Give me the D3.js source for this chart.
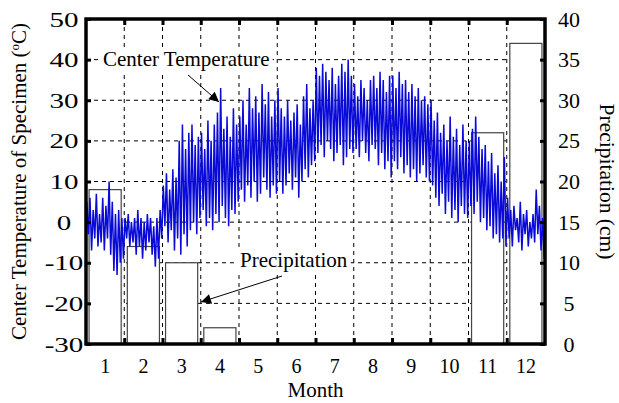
<!DOCTYPE html>
<html>
<head>
<meta charset="utf-8">
<script src="https://cdn.jsdelivr.net/npm/d3@7"></script>
<style>
  body { margin: 0; background: #fff; }
  text { font-family: "Liberation Serif", "Times New Roman", serif; fill: #000; }
</style>
</head>
<body>
<div id="chart"></div>
<script>
// Month labels and monthly precipitation (cm)
const months = ["1", "2", "3", "4", "5", "6", "7", "8", "9", "10", "11", "12"];
const precipitation = [19, 12, 10, 2, 0, 0, 0, 0, 0, 0, 26, 37];

const tempTicks = [-30, -20, -10, 0, 10, 20, 30, 40, 50];
const precipTicks = [0, 5, 10, 15, 20, 25, 30, 35, 40];

// Center temperature of specimen, read as highs/lows, 12 readings per month
const tempHigh = [
  5, 6, 3, 7, 2, 6, 4, 10, 5, 2, 3, 1,          // Jan
  1, 2, 0, 1, 3, 1, 0, 2, 1, -1, 1, 3,          // Feb
  9, 12, 8, 13, 11, 20, 24, 18, 22, 24, 19, 21, // Mar
  22, 18, 25, 20, 24, 27, 33, 23, 26, 21, 28, 24, // Apr
  26, 30, 24, 33, 28, 31, 27, 34, 29, 32, 26, 30, // May
  33, 28, 26, 30, 25, 27, 29, 24, 31, 34, 28, 30, // Jun
  38, 36, 39, 37, 35, 38, 34, 36, 39, 37, 40, 36, // Jul
  34, 31, 35, 33, 30, 35, 36, 33, 37, 35, 32, 36, // Aug
  36, 33, 37, 34, 35, 32, 34, 31, 33, 30, 31, 29, // Sep
  30, 25, 27, 22, 24, 20, 26, 21, 23, 19, 24, 20, // Oct
  20, 23, 26, 21, 18, 19, 15, 17, 12, 14, 10, 16, // Nov
  6, 3, 4, 1, 5, 2, 3, 0, 2, 8, 4, 1            // Dec
];
const tempLow = [
  -3, -7, -4, -6, -5, -7, -4, -8, -12, -13, -10, -9, // Jan
  -4, -6, -5, -8, -6, -9, -7, -5, -8, -11, -9, -4,   // Feb
  -1, -5, -2, -7, -4, -8, -3, -6, -2, 0, -3, 1,      // Mar
  3, -1, 1, -2, 2, 0, 4, 1, -1, 3, 2, 5,             // Apr
  8, 5, 9, 6, 10, 5, 7, 11, 8, 6, 9, 7,              // May
  10, 7, 9, 12, 8, 11, 6, 10, 13, 11, 14, 15,        // Jun
  17, 19, 16, 20, 18, 15, 17, 19, 14, 16, 18, 17,    // Jul
  18, 16, 20, 17, 15, 19, 18, 14, 17, 13, 15, 11,    // Aug
  15, 13, 16, 12, 14, 11, 13, 10, 12, 14, 11, 10,    // Sep
  9, 6, 4, 7, 2, 5, 1, 3, 0, 4, 2, 1,                // Oct
  4, 2, 5, 0, 1, -2, -1, -4, -3, -5, -4, -6,         // Nov
  -4, -6, -2, -5, -7, -3, -6, -4, -5, -3, -7, -9     // Dec
];

const width = 619, height = 403;
const margin = { top: 19, right: 74, bottom: 59, left: 86 };
const innerW = width - margin.left - margin.right;
const innerH = height - margin.top - margin.bottom;

const svg = d3.select("#chart").append("svg")
  .attr("width", width)
  .attr("height", height);

const g = svg.append("g")
  .attr("transform", `translate(${margin.left},${margin.top})`);

// Scales
const x = d3.scaleLinear().domain([0, 12]).range([0, innerW]);
const xBand = d3.scaleBand().domain(months).range([0, innerW])
  .paddingInner(0.16).paddingOuter(0.08);
const yT = d3.scaleLinear().domain([-30, 50]).range([innerH, 0]);
const yP = d3.scaleLinear().domain([0, 40]).range([innerH, 0]);

// Grid lines
const grid = g.append("g").attr("class", "grid")
  .attr("stroke", "#000")
  .attr("stroke-width", 1)
  .attr("stroke-dasharray", "4,4");

grid.selectAll("line.h")
  .data(tempTicks.filter(d => d > -30 && d < 50))
  .enter().append("line")
  .attr("class", "h")
  .attr("x1", 0).attr("x2", innerW)
  .attr("y1", d => yT(d)).attr("y2", d => yT(d));

grid.selectAll("line.v")
  .data(d3.range(1, 12))
  .enter().append("line")
  .attr("class", "v")
  .attr("x1", d => x(d)).attr("x2", d => x(d))
  .attr("y1", 0).attr("y2", innerH);

// Precipitation bars
g.append("g").selectAll("rect")
  .data(months.map((m, i) => ({ m, v: precipitation[i] })).filter(d => d.v > 0))
  .enter().append("rect")
  .attr("x", d => xBand(d.m))
  .attr("y", d => yP(d.v))
  .attr("width", xBand.bandwidth())
  .attr("height", d => innerH - yP(d.v))
  .attr("fill", "#fff")
  .attr("stroke", "#444")
  .attr("stroke-width", 1.2);

// Temperature trace: alternate between highs and lows (12 readings per month)
const step = 1 / 12;
const pts = [];
tempHigh.forEach((hi, i) => {
  const t = (i + 0.5) * step;
  pts.push([t - step / 4, hi]);
  pts.push([t + step / 4, tempLow[i]]);
});
const line = d3.line()
  .x(d => x(d[0]))
  .y(d => yT(d[1]));

g.append("path")
  .datum(pts)
  .attr("fill", "none")
  .attr("stroke", "#0a0ad8")
  .attr("stroke-width", 1.5)
  .attr("stroke-linejoin", "miter")
  .attr("d", line);

// Annotations
svg.append("defs").append("marker")
  .attr("id", "arrow")
  .attr("viewBox", "0 0 10 10")
  .attr("refX", 10).attr("refY", 5)
  .attr("markerWidth", 14).attr("markerHeight", 10)
  .attr("markerUnits", "userSpaceOnUse")
  .attr("orient", "auto")
  .append("path")
  .attr("d", "M0,0 L10,5 L0,10 Z")
  .attr("fill", "#000");

function annotate(label, tx, ty, from, to) {
  const t = svg.append("text")
    .attr("x", tx).attr("y", ty)
    .style("font-size", "21px")
    .text(label);
  const b = t.node().getBBox();
  svg.insert("rect", () => t.node())
    .attr("x", b.x - 3).attr("y", b.y)
    .attr("width", b.width + 6).attr("height", b.height)
    .attr("fill", "#fff");
  svg.append("line")
    .attr("x1", from[0]).attr("y1", from[1])
    .attr("x2", to[0]).attr("y2", to[1])
    .attr("stroke", "#000")
    .attr("stroke-width", 1)
    .attr("marker-end", "url(#arrow)");
}
annotate("Center Temperature", 103, 66, [188, 75], [219, 102]);
annotate("Precipitation", 240, 267, [282, 276], [201, 302]);

// Axes
const tickStyle = sel => {
  sel.select(".domain").remove();
  sel.selectAll(".tick line").attr("stroke", "#000").attr("stroke-width", 3);
  sel.selectAll(".tick text").style("font-size", "22px").attr("fill", "#000");
};

g.append("g")
  .call(d3.axisLeft(yT).tickValues(tempTicks).tickFormat(d => String(d))
    .tickSizeInner(-5).tickSizeOuter(0))
  .call(tickStyle)
  .call(a => a.selectAll(".tick text")
    .attr("x", 0)
    .attr("transform", "translate(-22,0) scale(1.32,1)")
    .attr("text-anchor", "middle"));

g.append("g")
  .attr("transform", `translate(${innerW},0)`)
  .call(d3.axisRight(yP).tickValues(precipTicks)
    .tickSizeInner(-5).tickSizeOuter(0))
  .call(tickStyle)
  .call(a => a.selectAll(".tick text").attr("x", 24).attr("text-anchor", "middle"));

g.append("g")
  .attr("transform", `translate(0,${innerH})`)
  .call(d3.axisBottom(x).tickValues(d3.range(1, 12)).tickFormat("")
    .tickSizeInner(-6).tickSizeOuter(0))
  .call(tickStyle);

g.append("g")
  .call(d3.axisTop(x).tickValues(d3.range(1, 12)).tickFormat("")
    .tickSizeInner(-6).tickSizeOuter(0))
  .call(tickStyle);

// Month labels
g.append("g").selectAll("text")
  .data(months)
  .enter().append("text")
  .attr("x", d => xBand(d) + xBand.bandwidth() / 2)
  .attr("y", innerH + 29)
  .attr("text-anchor", "middle")
  .style("font-size", "20px")
  .text(d => d);

// Frame
g.append("rect")
  .attr("width", innerW).attr("height", innerH)
  .attr("fill", "none")
  .attr("stroke", "#000")
  .attr("stroke-width", 3.5);

// Axis titles
svg.append("text")
  .attr("x", margin.left + innerW / 2)
  .attr("y", 397)
  .attr("text-anchor", "middle")
  .style("font-size", "21px")
  .text("Month");

const yTitle = svg.append("text")
  .attr("transform", `translate(26,${margin.top + innerH / 2}) rotate(-90)`)
  .attr("text-anchor", "middle")
  .style("font-size", "21px");
yTitle.append("tspan").text("Center Temperature of Specimen (");
yTitle.append("tspan").attr("dy", -7).style("font-size", "13px").text("o");
yTitle.append("tspan").attr("dy", 7).text("C)");

svg.append("text")
  .attr("transform", `translate(600,${margin.top + innerH / 2}) rotate(90)`)
  .attr("text-anchor", "middle")
  .style("font-size", "21.5px")
  .text("Precipitation (cm)");
</script>
</body>
</html>
